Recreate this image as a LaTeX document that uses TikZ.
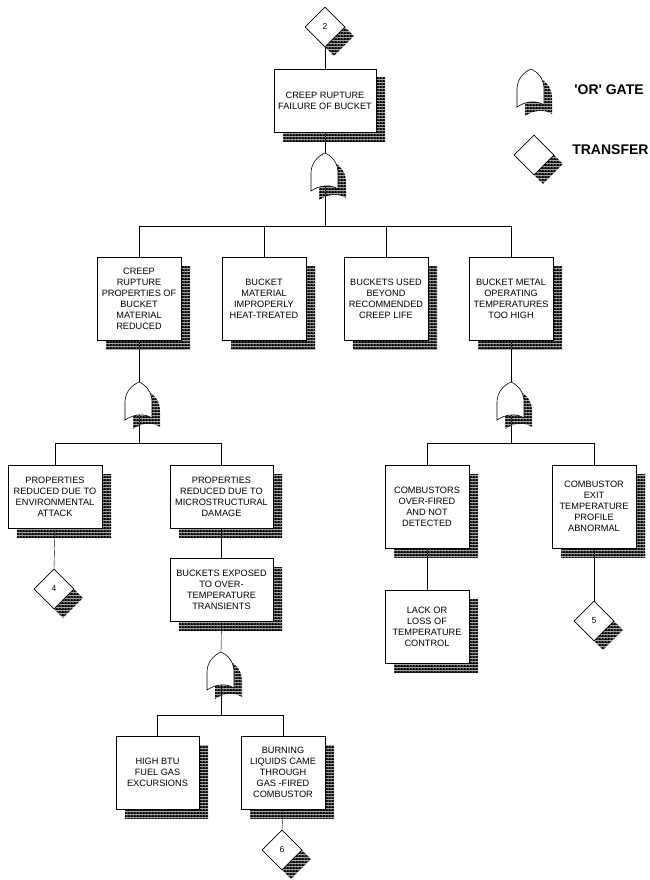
\documentclass[tikz,border=0pt]{standalone}
\usepackage{fontspec}
\setmainfont{Liberation Sans}
\usetikzlibrary{shapes.geometric,shadows,patterns,backgrounds}

% dark dotted shadow
\pgfdeclarepatterninherentlycolored{darkdots}{\pgfpointorigin}{\pgfqpoint{3pt}{3pt}}{\pgfqpoint{3pt}{3pt}}{%
  \pgfsetfillcolor{black}%
  \pgfpathrectangle{\pgfpointorigin}{\pgfqpoint{3pt}{3pt}}%
  \pgfusepath{fill}%
  \pgfsetfillcolor{white}%
  \pgfpathcircle{\pgfqpoint{1.5pt}{1.5pt}}{0.75pt}%
  \pgfusepath{fill}%
}

\tikzset{
  hatchshadow/.style={general shadow={shadow xshift=9pt, shadow yshift=-9pt, pattern=darkdots}},
  event/.style={draw, fill=white, hatchshadow, align=center, inner sep=2pt,
    font=\fontsize{9.2}{11}\selectfont, minimum width=84pt, minimum height=83pt},
  transfer/.style={draw, fill=white, diamond, hatchshadow, minimum size=40pt,
    inner sep=0pt, font=\fontsize{8.5}{10}\selectfont},
  legend/.style={inner sep=0pt, font=\fontsize{14}{16}\selectfont\bfseries},
  orgate/.pic={
    \fill[pattern=darkdots, shift={(8,9)}] (0,0) .. controls (7,3) and (13,10) .. (13,20)
      -- (13,36) .. controls (5,31) and (-5,32) .. (-14,38) -- (-14,20)
      .. controls (-14,10) and (-7,3) .. (0,0) -- cycle;
    \draw[fill=white] (0,0) .. controls (7,3) and (13,10) .. (13,20)
      -- (13,36) .. controls (5,31) and (-5,32) .. (-14,38) -- (-14,20)
      .. controls (-14,10) and (-7,3) .. (0,0) -- cycle;
    \coordinate (-top) at (0,0);
    \coordinate (-bot) at (0,33);
  }
}

\begin{document}
\begin{tikzpicture}[x=1pt, y=-1pt, line width=0.6pt]
  \useasboundingbox (0,0) rectangle (649,880);

  % legend
  \pic (gl) at (531,69) {orgate};
  \node[legend, anchor=west] (lg) at (574,90) {\textquotesingle OR\textquotesingle\ GATE};
  \node[transfer] (tl) at (534,155) {};
  \node[legend, anchor=west] (lt) at (572,150) {TRANSFER};

  % top event
  \node[transfer] (t2) at (325,27) {2};
  \node[event, minimum width=102pt, minimum height=63pt] (top) at (325,100.5) {CREEP RUPTURE\\FAILURE OF BUCKET};
  \pic (g0) at (325,153) {orgate};
  \coordinate (j0) at (325,226);

  % first level
  \node[event] (a1) at (139,298.5) {CREEP\\RUPTURE\\PROPERTIES OF\\BUCKET\\MATERIAL\\REDUCED};
  \node[event] (a2) at (264,298.5) {BUCKET\\MATERIAL\\IMPROPERLY\\HEAT-TREATED};
  \node[event] (a3) at (386,298.5) {BUCKETS USED\\BEYOND\\RECOMMENDED\\CREEP LIFE};
  \node[event] (a4) at (511,298.5) {BUCKET METAL\\OPERATING\\TEMPERATURES\\TOO HIGH};

  % left branch
  \pic (g1) at (139,382) {orgate};
  \coordinate (j1) at (139,443);
  \node[event, minimum width=94pt, minimum height=63pt] (b1) at (55,496.5) {PROPERTIES\\REDUCED DUE TO\\ENVIRONMENTAL\\ATTACK};
  \node[event, minimum width=103pt, minimum height=63pt] (b2) at (221.5,496.5) {PROPERTIES\\REDUCED DUE TO\\MICROSTRUCTURAL\\DAMAGE};
  \node[transfer] (t4) at (54,589) {4};
  \node[event, minimum width=103pt, minimum height=63pt] (c1) at (221.5,589.5) {BUCKETS EXPOSED\\TO OVER-\\TEMPERATURE\\TRANSIENTS};
  \pic (g3) at (221,652) {orgate};
  \coordinate (j3) at (221,715);
  \node[event, minimum width=83pt, minimum height=73pt] (d1) at (157.5,772.5) {HIGH BTU\\FUEL GAS\\EXCURSIONS};
  \node[event, minimum height=73pt] (d2) at (283,772.5) {BURNING\\LIQUIDS CAME\\THROUGH\\GAS -FIRED\\COMBUSTOR};
  \node[transfer] (t6) at (282,850) {6};

  % right branch
  \pic (g2) at (511,382) {orgate};
  \coordinate (j2) at (511,443);
  \node[event] (b3) at (427,506.5) {COMBUSTORS\\OVER-FIRED\\AND NOT\\DETECTED};
  \node[event] (b4) at (594,506.5) {COMBUSTOR\\EXIT\\TEMPERATURE\\PROFILE\\ABNORMAL};
  \node[event, minimum height=73pt] (c3) at (427,626.5) {LACK OR\\LOSS OF\\TEMPERATURE\\CONTROL};
  \node[transfer] (t5) at (594,621) {5};

  \begin{scope}[on background layer]
    \draw (t2.south) -- (top.north);
    \draw (top.south) -- (g0-top);
    \draw (g0-bot) -- (j0);
    \foreach \n in {a1,a2,a3,a4}
      \draw (j0) -| (\n.north);

    \draw (a1.south) -- (g1-top);
    \draw (g1-bot) -- (j1);
    \foreach \n in {b1,b2}
      \draw (j1) -| (\n.north);
    \draw (b1.south) -- (t4.north);
    \draw (b2.south) -- (c1.north);
    \draw (c1.south) -- (g3-top);
    \draw (g3-bot) -- (j3);
    \foreach \n in {d1,d2}
      \draw (j3) -| (\n.north);
    \draw (d2.south) -- (t6.north);

    \draw (a4.south) -- (g2-top);
    \draw (g2-bot) -- (j2);
    \foreach \n in {b3,b4}
      \draw (j2) -| (\n.north);
    \draw (b3.south) -- (c3.north);
    \draw (b4.south) -- (t5.north);
  \end{scope}
\end{tikzpicture}
\end{document}
